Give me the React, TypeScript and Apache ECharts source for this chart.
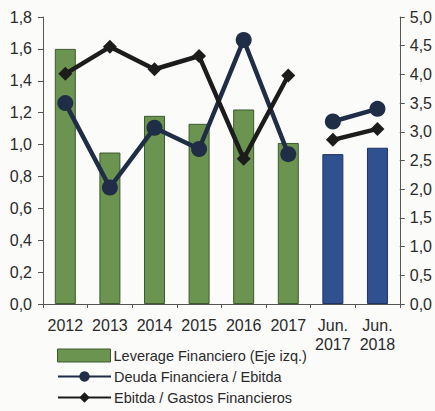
import React, { useEffect, useRef } from "react";
import * as echarts from "echarts";

const categories = ["2012", "2013", "2014", "2015", "2016", "2017", "Jun.\n2017", "Jun.\n2018"];
const leverage = [1.6, 0.95, 1.18, 1.13, 1.22, 1.01, 0.94, 0.98];
const deudaAnual = [3.5, 2.03, 3.07, 2.7, 4.6, 2.61, null, null];
const deudaJun = [null, null, null, null, null, null, 3.18, 3.4];
const ebitdaAnual = [4.01, 4.48, 4.09, 4.32, 2.53, 3.98, null, null];
const ebitdaJun = [null, null, null, null, null, null, 2.86, 3.05];
const leftTicks = { min: 0, max: 1.8, interval: 0.2 };
const rightTicks = { min: 0, max: 5, interval: 0.5 };

const GREEN = "#6b9450";
const GREEN_BORDER = "#3d5a2c";
const BLUE = "#2f5190";
const BLUE_BORDER = "#1f3463";
const NAVY = "#1f2d47";
const BLACK = "#1c1c1c";
const FONT = "'Liberation Sans Narrow', 'Arial Narrow', 'Liberation Sans', Arial, sans-serif";
const TEXT = "#2a2a2a";
const FS = 16;
const LFS = 14.5;

const fmt = (v: number) => v.toFixed(1).replace(".", ",");

export default function App() {
  const ref = useRef<HTMLDivElement>(null);
  useEffect(() => {
    if (!ref.current) return;
    const chart = echarts.init(ref.current, null, { renderer: "svg" });
    const nameLev = "Leverage Financiero (Eje izq.)";
    const nameDeuda = "Deuda Financiera / Ebitda";
    const nameEbitda = "Ebitda / Gastos Financieros";
    const lineCommon = (color: string, symbol: string, size: number) => ({
      type: "line" as const,
      yAxisIndex: 1,
      symbol,
      symbolSize: size,
      showAllSymbol: true,
      connectNulls: false,
      lineStyle: { color, width: 4.5 },
      itemStyle: { color },
      z: 3,
    });
    const legendCommon = {
      orient: "horizontal" as const,
      left: 57,
      padding: 0,
      itemWidth: 53,
      itemHeight: 13,
      textStyle: { fontFamily: FONT, fontSize: LFS, color: TEXT, padding: [0, 0, 0, -2] },
    };
    chart.setOption({
      animation: false,
      backgroundColor: "#fbfbfa",
      grid: { left: 43, right: 35, top: 17, bottom: 107, containLabel: false },
      legend: [
        {
          ...legendCommon,
          top: 348,
          data: [{ name: nameLev, icon: "rect", itemStyle: { color: GREEN, borderColor: GREEN_BORDER, borderWidth: 1 } }],
        },
        { ...legendCommon, top: 369, data: [{ name: nameDeuda }] },
        { ...legendCommon, top: 390, data: [{ name: nameEbitda }] },
      ],
      xAxis: {
        type: "category",
        data: categories,
        boundaryGap: true,
        axisLine: { lineStyle: { color: "#555", width: 1 } },
        axisTick: { show: true, alignWithLabel: false, length: 4, lineStyle: { color: "#555" } },
        axisLabel: {
          fontFamily: FONT,
          fontSize: FS,
          color: TEXT,
          lineHeight: 19,
          margin: 12,
          interval: 0,
        },
      },
      yAxis: [
        {
          type: "value",
          ...leftTicks,
          axisLine: { show: true, lineStyle: { color: "#555" } },
          axisTick: { show: true, length: 5, lineStyle: { color: "#555" } },
          splitLine: { show: false },
          axisLabel: { fontFamily: FONT, fontSize: FS, color: TEXT, margin: 11, formatter: fmt },
        },
        {
          type: "value",
          ...rightTicks,
          position: "right",
          axisLine: { show: true, lineStyle: { color: "#555" } },
          axisTick: { show: true, length: 5, lineStyle: { color: "#555" } },
          splitLine: { show: false },
          axisLabel: { fontFamily: FONT, fontSize: FS, color: TEXT, margin: 10, formatter: fmt },
        },
      ],
      series: [
        {
          name: nameLev,
          type: "bar",
          yAxisIndex: 0,
          barWidth: 21,
          z: 2,
          itemStyle: { color: GREEN, borderColor: GREEN_BORDER, borderWidth: 1 },
          data: leverage.map((v, i) =>
            i >= 6
              ? { value: v, itemStyle: { color: BLUE, borderColor: BLUE_BORDER, borderWidth: 1 } }
              : { value: v }
          ),
        },
        { name: nameDeuda, data: deudaAnual, ...lineCommon(NAVY, "circle", 16) },
        { name: nameDeuda, data: deudaJun, ...lineCommon(NAVY, "circle", 16) },
        { name: nameEbitda, data: ebitdaAnual, ...lineCommon(BLACK, "diamond", 14) },
        { name: nameEbitda, data: ebitdaJun, ...lineCommon(BLACK, "diamond", 14) },
      ],
    });
    return () => chart.dispose();
  }, []);
  return <div ref={ref} style={{ width: 435, height: 411, position: "absolute", left: 0, top: 0 }} />;
}
